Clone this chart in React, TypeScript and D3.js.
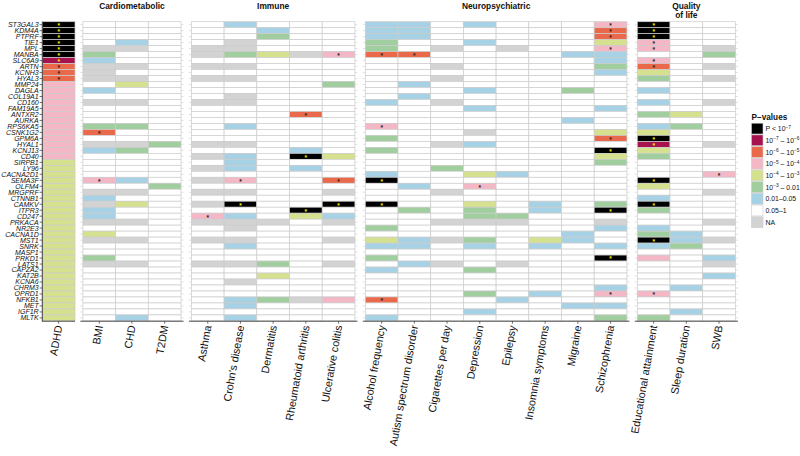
import React from "react";
import * as d3 from "d3";

// ---------- data ----------
const GENES = [
  "ST3GAL3", "KDM4A", "PTPRF", "TIE1", "MPL", "MANBA", "SLC6A9", "ARTN", "KCNH3", "HYAL3",
  "MMP24", "DAGLA", "COL19A1", "CD160", "FAM19A5", "ANTXR2", "AURKA", "RPS6KA5", "CSNK1G2", "GPM6A",
  "HYAL1", "KCNJ13", "CD40", "SIRPB1", "LY96", "CACNA2D1", "SEMA3F", "OLFM4", "MRGPRF", "CTNNB1",
  "CAMKV", "ITPR3", "CD247", "PRKACA", "NR2E3", "CACNA1D", "MST1", "SNRK", "MASP1", "PRKD1",
  "LATS1", "CAPZA2", "KAT2B", "KCNA6", "CHRM3", "OPRD1", "NFKB1", "MET", "IGF1R", "MLTK",
];

const GROUP_TITLES = [[], ["Cardiometabolic"], ["Immune"], ["Neuropsychiatric"], ["Quality", "of life"]];
const GROUP_TRAITS = [
  ["ADHD"],
  ["BMI", "CHD", "T2DM"],
  ["Asthma", "Crohn's disease", "Dermatitis", "Rheumatoid arthritis", "Ulcerative colitis"],
  ["Alcohol frequency", "Autism spectrum disorder", "Cigarettes per day", "Depression", "Epilepsy", "Insomnia symptoms", "Migraine", "Schizophrenia"],
  ["Educational attainment", "Sleep duration", "SWB"],
];

// P-value classes: 0 P<1e-7 ... 7 = 0.05-1 (default), 8 = NA
const LEVEL_LABELS = [
  "P < 10^{−7}", "10^{−7} – 10^{−6}", "10^{−6} – 10^{−5}", "10^{−5} – 10^{−4}",
  "10^{−4} – 10^{−3}", "10^{−3} – 0.01", "0.01–0.05", "0.05–1", "NA",
];
const LEVEL_COLORS = ["#000000", "#A5124D", "#E9694A", "#F3B7C6", "#D6E18F", "#A1CE9E", "#A7D1E4", "#FFFFFF", "#D3D3D3"];

// [gene, level, star]
type Cell = [string, number, number?];
const ADHD: Cell[] = [
  ["ST3GAL3", 0, 1], ["KDM4A", 0, 1], ["PTPRF", 0, 1], ["TIE1", 0, 1], ["MPL", 0, 1], ["MANBA", 0, 1],
  ["SLC6A9", 1, 1], ["ARTN", 2, 1], ["KCNH3", 2, 1], ["HYAL3", 2, 1],
  ["MMP24", 3], ["DAGLA", 3], ["COL19A1", 3], ["CD160", 3], ["FAM19A5", 3], ["ANTXR2", 3], ["AURKA", 3],
  ["RPS6KA5", 3], ["CSNK1G2", 3], ["GPM6A", 3], ["HYAL1", 3], ["KCNJ13", 3], ["CD40", 3],
  ["SIRPB1", 4], ["LY96", 4], ["CACNA2D1", 4], ["SEMA3F", 4], ["OLFM4", 4], ["MRGPRF", 4], ["CTNNB1", 4],
  ["CAMKV", 4], ["ITPR3", 4], ["CD247", 4], ["PRKACA", 4], ["NR2E3", 4], ["CACNA1D", 4], ["MST1", 4],
  ["SNRK", 4], ["MASP1", 4], ["PRKD1", 4], ["LATS1", 4], ["CAPZA2", 4], ["KAT2B", 4], ["KCNA6", 4],
  ["CHRM3", 4], ["OPRD1", 4], ["NFKB1", 4], ["MET", 4], ["IGF1R", 4], ["MLTK", 4],
];
const BMI: Cell[] = [
  ["MPL", 8], ["MANBA", 5], ["SLC6A9", 6], ["ARTN", 8], ["KCNH3", 8], ["HYAL3", 8], ["DAGLA", 6], ["CD160", 8],
  ["RPS6KA5", 5], ["CSNK1G2", 2, 1], ["HYAL1", 8], ["KCNJ13", 6], ["SEMA3F", 3, 1], ["MRGPRF", 8], ["CTNNB1", 6],
  ["CAMKV", 8], ["ITPR3", 6], ["CD247", 6], ["PRKACA", 8], ["CACNA1D", 4], ["MST1", 8], ["PRKD1", 5], ["LATS1", 8],
];
const CHD: Cell[] = [
  ["TIE1", 6], ["MPL", 8], ["ARTN", 8], ["HYAL3", 8], ["MMP24", 4], ["CD160", 8], ["RPS6KA5", 5], ["HYAL1", 8],
  ["KCNJ13", 5], ["SEMA3F", 6], ["MRGPRF", 8], ["CAMKV", 4], ["PRKACA", 8], ["MST1", 8], ["LATS1", 8], ["MLTK", 6],
];
const T2DM: Cell[] = [["HYAL1", 5], ["OLFM4", 5]];
const ASTHMA: Cell[] = [
  ["MPL", 8], ["MANBA", 8], ["ARTN", 8], ["HYAL3", 8], ["CD160", 8], ["HYAL1", 8], ["CD40", 8], ["LY96", 8],
  ["SEMA3F", 8], ["MRGPRF", 8], ["CAMKV", 8], ["CD247", 3, 1], ["PRKACA", 8], ["MST1", 8], ["LATS1", 8],
];
const CROHNS: Cell[] = [
  ["ST3GAL3", 6], ["TIE1", 8], ["MPL", 8], ["MANBA", 5], ["ARTN", 8], ["HYAL3", 8], ["COL19A1", 8], ["CD160", 8],
  ["RPS6KA5", 6], ["HYAL1", 8], ["CD40", 6], ["SIRPB1", 6], ["LY96", 6], ["SEMA3F", 3, 1], ["MRGPRF", 8],
  ["CAMKV", 0, 1], ["CD247", 6], ["PRKACA", 8], ["NR2E3", 8], ["MST1", 8], ["SNRK", 6], ["LATS1", 8],
  ["KCNA6", 8], ["NFKB1", 6], ["MET", 6], ["MLTK", 6],
];
const DERMATITIS: Cell[] = [["KDM4A", 6], ["PTPRF", 5], ["MANBA", 4], ["PRKACA", 8], ["LATS1", 5], ["KAT2B", 4], ["NFKB1", 5]];
const RA: Cell[] = [
  ["MANBA", 8], ["ANTXR2", 2, 1], ["KCNJ13", 6], ["CD40", 0, 1], ["LY96", 6], ["ITPR3", 0, 1], ["CD247", 4], ["NFKB1", 8],
];
const UC: Cell[] = [
  ["MANBA", 3, 1], ["MMP24", 5], ["CD40", 4], ["SEMA3F", 2, 1], ["MRGPRF", 8], ["CAMKV", 0, 1], ["CD247", 6],
  ["PRKACA", 8], ["MST1", 8], ["LATS1", 8], ["NFKB1", 3],
];
const ALCOHOL: Cell[] = [
  ["ST3GAL3", 6], ["KDM4A", 6], ["PTPRF", 6], ["TIE1", 5], ["MPL", 5], ["MANBA", 2, 1], ["CD160", 6],
  ["RPS6KA5", 3, 1], ["GPM6A", 5], ["KCNJ13", 5], ["CACNA2D1", 6], ["SEMA3F", 0, 1], ["CAMKV", 0, 1],
  ["NR2E3", 5], ["MST1", 4], ["SNRK", 6], ["PRKD1", 5], ["CAPZA2", 6], ["NFKB1", 2, 1], ["MLTK", 6],
];
const AUTISM: Cell[] = [
  ["ST3GAL3", 6], ["KDM4A", 6], ["PTPRF", 6], ["MANBA", 2, 1], ["MMP24", 6], ["COL19A1", 6], ["OLFM4", 6],
  ["ITPR3", 5], ["MST1", 6], ["SNRK", 6], ["LATS1", 6],
];
const CIGARETTES: Cell[] = [
  ["MPL", 8], ["ARTN", 8], ["HYAL3", 8], ["CD160", 8], ["HYAL1", 8], ["LY96", 5], ["MRGPRF", 8], ["PRKACA", 8],
  ["MST1", 8], ["LATS1", 8],
];
const DEPRESSION: Cell[] = [
  ["ST3GAL3", 6], ["TIE1", 6], ["DAGLA", 6], ["FAM19A5", 6], ["CSNK1G2", 8], ["HYAL1", 6], ["CACNA2D1", 4],
  ["OLFM4", 3, 1], ["CAMKV", 4], ["ITPR3", 5], ["CD247", 5], ["PRKACA", 8], ["MST1", 5], ["SNRK", 6],
  ["CAPZA2", 5], ["OPRD1", 5], ["IGF1R", 6],
];
const EPILEPSY: Cell[] = [["MPL", 8], ["CACNA2D1", 6], ["CD247", 5], ["PRKACA", 8], ["LATS1", 8], ["NFKB1", 6]];
const INSOMNIA: Cell[] = [["CAMKV", 6], ["ITPR3", 6], ["MST1", 4], ["SNRK", 6], ["OPRD1", 6]];
const MIGRAINE: Cell[] = [["MANBA", 6], ["DAGLA", 5], ["AURKA", 6], ["CACNA1D", 6], ["MST1", 6], ["MET", 6]];
const SCHIZOPHRENIA: Cell[] = [
  ["ST3GAL3", 3, 1], ["KDM4A", 2, 1], ["PTPRF", 2, 1], ["TIE1", 4], ["MPL", 3, 1], ["MANBA", 6], ["SLC6A9", 6],
  ["ARTN", 5], ["KCNH3", 6], ["FAM19A5", 6], ["CSNK1G2", 4], ["GPM6A", 2, 1], ["KCNJ13", 0, 1], ["CD40", 4],
  ["SIRPB1", 5], ["CAMKV", 5], ["ITPR3", 0, 1], ["PRKACA", 8], ["NR2E3", 6], ["SNRK", 6], ["PRKD1", 0, 1],
  ["CHRM3", 6], ["OPRD1", 3, 1], ["MET", 6], ["MLTK", 5],
];
const EDUCATION: Cell[] = [
  ["ST3GAL3", 0, 1], ["KDM4A", 0, 1], ["PTPRF", 0, 1], ["TIE1", 3, 1], ["MPL", 3, 1], ["SLC6A9", 3, 1],
  ["ARTN", 2, 1], ["KCNH3", 4], ["HYAL3", 5], ["DAGLA", 6], ["CD160", 6], ["ANTXR2", 5], ["RPS6KA5", 6],
  ["CSNK1G2", 4], ["GPM6A", 0, 1], ["HYAL1", 1, 1], ["KCNJ13", 4], ["CD40", 5], ["SEMA3F", 0, 1], ["OLFM4", 4],
  ["CTNNB1", 6], ["CAMKV", 0, 1], ["ITPR3", 5], ["NR2E3", 6], ["CACNA1D", 5], ["MST1", 0, 1], ["SNRK", 6],
  ["PRKD1", 3], ["OPRD1", 3, 1], ["MLTK", 5],
];
const SLEEP: Cell[] = [["ANTXR2", 4], ["RPS6KA5", 5], ["CACNA1D", 6], ["MST1", 6], ["SNRK", 5], ["CHRM3", 6], ["IGF1R", 6]];
const SWB: Cell[] = [
  ["MPL", 8], ["MANBA", 5], ["ARTN", 8], ["HYAL3", 8], ["CD160", 8], ["HYAL1", 8], ["CACNA2D1", 3, 1],
  ["MRGPRF", 8], ["PRKACA", 8], ["MST1", 8], ["PRKD1", 6], ["LATS1", 8], ["KAT2B", 6],
];

const TRAIT_CELLS: Record<string, Cell[]> = {
  ADHD, BMI, CHD, T2DM,
  Asthma: ASTHMA, "Crohn's disease": CROHNS, Dermatitis: DERMATITIS, "Rheumatoid arthritis": RA, "Ulcerative colitis": UC,
  "Alcohol frequency": ALCOHOL, "Autism spectrum disorder": AUTISM, "Cigarettes per day": CIGARETTES,
  Depression: DEPRESSION, Epilepsy: EPILEPSY, "Insomnia symptoms": INSOMNIA, Migraine: MIGRAINE, Schizophrenia: SCHIZOPHRENIA,
  "Educational attainment": EDUCATION, "Sleep duration": SLEEP, SWB,
};

// ---------- layout ----------
const W = 800, H = 456;
const PLOT_TOP = 21.7, PLOT_BOTTOM = 320.9;
const X_START = 42.3, COL_W = 32.7, GAP = 5.4, PAD = 2.5;
const FONT = "'Liberation Sans', Arial, Helvetica, sans-serif";
const GRID = "#CCCCCC";
const AXIS = "#333333";

function parseLabel(s: string) {
  const parts: { t: string; sup: boolean }[] = [];
  const re = /\^\{([^}]*)\}/g;
  let last = 0;
  let m: RegExpExecArray | null;
  while ((m = re.exec(s))) {
    if (m.index > last) parts.push({ t: s.slice(last, m.index), sup: false });
    parts.push({ t: m[1], sup: true });
    last = re.lastIndex;
  }
  if (last < s.length) parts.push({ t: s.slice(last), sup: false });
  return parts;
}

export default function App() {
  const y = d3.scaleBand<string>().domain(GENES).range([PLOT_TOP, PLOT_BOTTOM]).paddingInner(0).paddingOuter(0);

  let cursor = X_START;
  const panels = GROUP_TRAITS.map((traits, gi) => {
    const pad = gi === 0 ? 0 : PAD;
    const x0 = cursor;
    const x1 = x0 + traits.length * COL_W + 2 * pad;
    cursor = x1 + GAP;
    const x = d3.scaleBand<string>().domain(traits).range([x0 + pad, x1 - pad]);
    return { gi, traits, x0, x1, x, title: GROUP_TITLES[gi] };
  });

  const lookup = (trait: string) => {
    const m = new Map<string, Cell>();
    (TRAIT_CELLS[trait] || []).forEach((c) => m.set(c[0], c));
    return m;
  };

  const legendX = 751.5, legendTitleY = 119.8, legendY0 = 123.2, legendStep = 11.7, keyW = 11.5, keyH = 10.8;
  const LFS = 6.9, SFS = 4.8;

  return (
    <svg width={W} height={H} viewBox={`0 0 ${W} ${H}`} style={{ position: "absolute", left: 0, top: 0, background: "#fff" }} fontFamily={FONT}>
      <rect x={0} y={0} width={W} height={H} fill="#fff" />
      {panels.map((p) => {
        const bw = p.x.bandwidth();
        const bh = y.bandwidth();
        return (
          <g key={p.gi}>
            {p.gi > 0 &&
              GENES.map((g) => (
                <line key={"g" + g} x1={p.x0} x2={p.x1} y1={(y(g) as number) + bh / 2} y2={(y(g) as number) + bh / 2} stroke={GRID} strokeWidth={0.6} />
              ))}
            {p.traits.map((t) => {
              const m = lookup(t);
              return GENES.map((g) => {
                const c = m.get(g);
                const lvl = c ? c[1] : 7;
                const star = c ? !!c[2] : false;
                const cx = (p.x(t) as number) + bw / 2;
                const cy = (y(g) as number) + bh / 2;
                return (
                  <g key={t + g}>
                    <rect x={p.x(t)} y={y(g)} width={bw} height={bh} fill={LEVEL_COLORS[lvl]} stroke={GRID} strokeWidth={0.7} />
                    {star && (
                      <text x={cx} y={cy + 3.4} textAnchor="middle" fontSize={6.5} fontWeight="bold" fill={lvl <= 1 ? "#F2F200" : "#222"}>
                        *
                      </text>
                    )}
                  </g>
                );
              });
            })}
            <line x1={p.x0} x2={p.x1} y1={PLOT_BOTTOM + 0.3} y2={PLOT_BOTTOM + 0.3} stroke={AXIS} strokeWidth={0.9} />
            {p.traits.map((t) => {
              const cx = (p.x(t) as number) + bw / 2;
              return (
                <g key={"x" + t}>
                  <line x1={cx} x2={cx} y1={PLOT_BOTTOM + 0.3} y2={PLOT_BOTTOM + 2.8} stroke={AXIS} strokeWidth={0.7} />
                  <text transform={`translate(${cx},${PLOT_BOTTOM + 4.5}) rotate(-80)`} textAnchor="end" dy="0.35em" fontSize={10.8} fill="#111">
                    {t}
                  </text>
                </g>
              );
            })}
            {p.title.map((line, li) => (
              <text key={li} x={(p.x0 + p.x1) / 2} y={8.7 + li * 9.2} textAnchor="middle" fontSize={8.4} fontWeight="bold" fill="#111">
                {line}
              </text>
            ))}
          </g>
        );
      })}
      <line x1={X_START} x2={X_START} y1={PLOT_TOP} y2={PLOT_BOTTOM + 0.7} stroke={AXIS} strokeWidth={0.9} />
      {GENES.map((g) => {
        const cy = (y(g) as number) + y.bandwidth() / 2;
        return (
          <g key={"y" + g}>
            <line x1={X_START - 2.7} x2={X_START} y1={cy} y2={cy} stroke={AXIS} strokeWidth={0.7} />
            <text x={X_START - 3.6} y={cy} dy="0.35em" textAnchor="end" fontSize={7} fontStyle="italic" fill="#111">
              {g}
            </text>
          </g>
        );
      })}
      <text x={legendX} y={legendTitleY} fontSize={8.2} fontWeight="bold" fill="#111">P−values</text>
      {LEVEL_LABELS.map((lab, i) => {
        const ky = legendY0 + i * legendStep;
        const parts = parseLabel(lab);
        return (
          <g key={"l" + i}>
            <rect x={legendX} y={ky} width={keyW} height={keyH} fill={LEVEL_COLORS[i]} stroke={GRID} strokeWidth={0.6} />
            <text x={legendX + keyW + 2.5} y={ky + keyH / 2 + 2.6} fontSize={LFS} fill="#111" style={{ whiteSpace: "pre" }}>
              {parts.map((pt, j) => (
                <tspan key={j} fontSize={pt.sup ? SFS : LFS} dy={pt.sup ? -2.7 : j > 0 && parts[j - 1].sup ? 2.7 : 0}>
                  {pt.t}
                </tspan>
              ))}
            </text>
          </g>
        );
      })}
    </svg>
  );
}
